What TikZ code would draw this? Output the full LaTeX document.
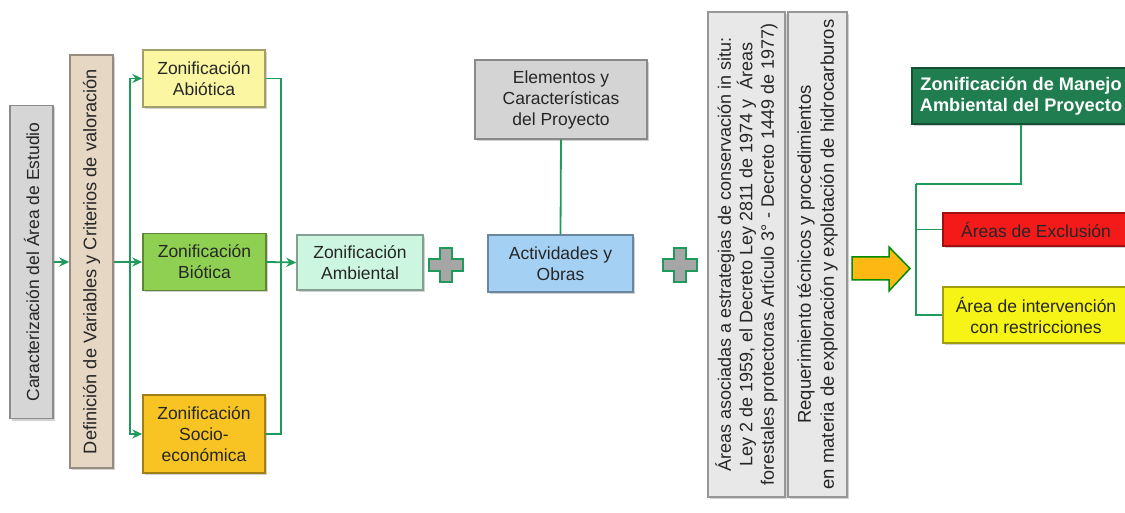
\documentclass[tikz,border=0pt]{standalone}
\usepackage{fontspec}
\setmainfont{Liberation Sans}
\usetikzlibrary{arrows.meta,shadows}
\definecolor{lnkgreen}{HTML}{1E9A5A}
\definecolor{caracol}{HTML}{D6D6D6}
\definecolor{defcol}{HTML}{E6D6C4}
\definecolor{abiocol}{HTML}{FAF6A2}
\definecolor{biocol}{HTML}{8FD052}
\definecolor{sociocol}{HTML}{F8C424}
\definecolor{ambcol}{HTML}{CCF6E0}
\definecolor{elemcol}{HTML}{D4D4D4}
\definecolor{actcol}{HTML}{A4D0F4}
\definecolor{normcol}{HTML}{E8E8E8}
\definecolor{manejocol}{HTML}{1F7D50}
\definecolor{exclcol}{HTML}{F41A1A}
\definecolor{intcol}{HTML}{F6F316}
\definecolor{arrowcol}{HTML}{FDB813}
\begin{document}
\begin{tikzpicture}[x=1pt,y=-1pt,
  zbox/.style={draw=#1!65!black,fill=#1,line width=1.4pt,inner sep=2pt,align=center,
    text=black!85,font=\fontsize{17.5}{21}\selectfont,
    drop shadow={shadow xshift=2pt,shadow yshift=-2pt,fill=black!35}},
  link/.style={draw=lnkgreen,line width=1.8pt},
  arr/.style={link,-{Stealth[length=10pt,width=9pt]}}]
\useasboundingbox (0,0) rectangle (1125,513);
% columna izquierda
\node[zbox=caracol,rotate=90,minimum width=313,minimum height=43] (carac) at (31.5,262) {Caracterizaci\'on del \'Area de Estudio};
\node[zbox=defcol,rotate=90,minimum width=413,minimum height=43,font=\fontsize{18.2}{21}\selectfont] (defin) at (91.5,261.5) {Definici\'on de Variables y Criterios de valoraci\'on};
\node[zbox=abiocol,minimum width=122,minimum height=57] (abio) at (204,78.5) {Zonificaci\'on\\Abi\'otica};
\node[zbox=biocol,minimum width=123,minimum height=57] (bio) at (204.5,262) {Zonificaci\'on\\Bi\'otica};
\node[zbox=sociocol,minimum width=122,minimum height=78] (socio) at (204,434) {Zonificaci\'on\\Socio-\\econ\'omica};
\node[zbox=ambcol,minimum width=126,minimum height=55] (amb) at (360,262.5) {Zonificaci\'on\\Ambiental};
% proyecto
\node[zbox=elemcol,minimum width=172,minimum height=79] (elem) at (561,99.5) {Elementos y\\Caracter\'isticas\\del Proyecto};
\node[zbox=actcol,minimum width=145,minimum height=57] (activ) at (560.5,263.5) {Actividades y\\Obras};
% normativa
\node[zbox=normcol,rotate=90,minimum width=485,minimum height=77,font=\fontsize{18}{21.5}\selectfont] (areas) at (746.5,254.5)
  {\'Areas asociadas a estrategias de conservaci\'on in situ:\\Ley 2 de 1959, el Decreto Ley 2811 de 1974 y~~\'Areas\\forestales protectoras Art\'iculo 3° - Decreto 1449 de 1977)};
\node[zbox=normcol,rotate=90,minimum width=485,minimum height=59,font=\fontsize{18.5}{23}\selectfont] (req) at (817.5,254.5)
  {Requerimiento t\'ecnicos y procedimientos\\en materia de exploraci\'on y explotaci\'on de hidrocarburos};
% resultado
\node[zbox=manejocol,minimum width=218,minimum height=56,text=white,font=\fontsize{18.2}{21}\selectfont\bfseries] (manejo) at (1021,96) {Zonificaci\'on de Manejo\\Ambiental del Proyecto};
\node[zbox=exclcol,minimum width=186,minimum height=33] (excl) at (1036,229.5) {\'Areas de Exclusi\'on};
\node[zbox=intcol,minimum width=186,minimum height=56] (interv) at (1036,315) {\'Area de intervenci\'on\\con restricciones};
% conectores (nodos girados: south = lado derecho)
\coordinate (split) at (130,262);
\coordinate (join) at (281,262);
\coordinate (mtrunk) at (916,184);
\draw[arr] (carac.south) -- (carac.south -| defin.north);
\draw[arr] (defin.south |- bio.west) -- (bio.west);
\draw[arr] (split) |- (abio.west);
\draw[arr] (split) |- (socio.west);
\draw[link] (abio.east) -| (join);
\draw[link] (socio.east) -| (join);
\draw[arr] (bio.east) -- (amb.west);
\draw[link] (elem.south) -- (activ.north);
\draw[link] (manejo.south) |- (mtrunk);
\draw[link] (mtrunk) |- (excl.west);
\draw[link] (mtrunk) |- (interv.west);
% signos mas
\foreach \cx in {446,680}{
  \draw[fill=black!35,draw=lnkgreen,line width=1.5pt]
    (\cx-6,248) -- (\cx+6,248) -- (\cx+6,259) -- (\cx+17,259) -- (\cx+17,271) -- (\cx+6,271)
    -- (\cx+6,282) -- (\cx-6,282) -- (\cx-6,271) -- (\cx-17,271) -- (\cx-17,259) -- (\cx-6,259) -- cycle;}
% flecha
\draw[fill=arrowcol,draw=green!55!black,line width=1.5pt]
  (852,257) -- (889,257) -- (889,247) -- (910,268.5) -- (889,291) -- (889,280) -- (852,280) -- cycle;
\end{tikzpicture}
\end{document}
